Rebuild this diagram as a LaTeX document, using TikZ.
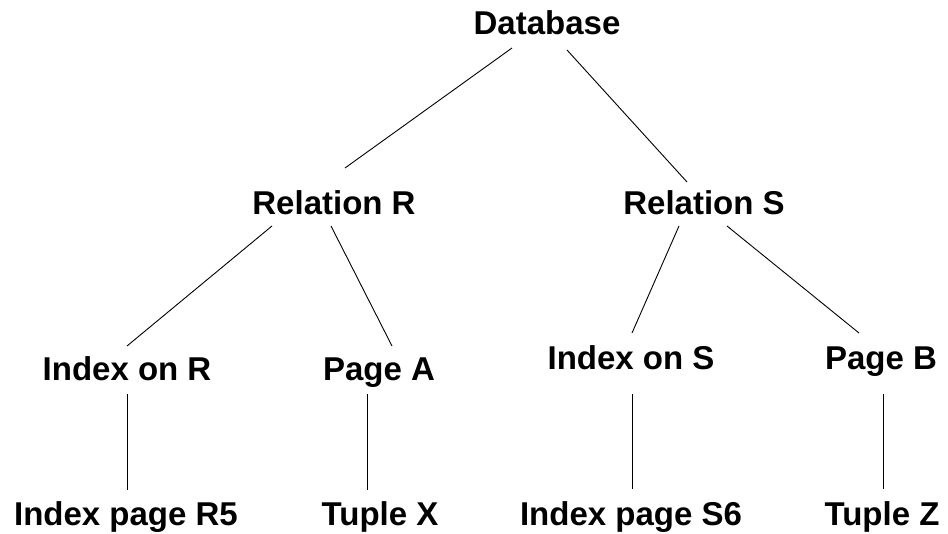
\documentclass[tikz,border=0pt]{standalone}
\usepackage{fontspec}
\setmainfont{Liberation Sans}
\usetikzlibrary{calc}

\tikzset{
  lbl/.style={anchor=base, inner sep=0pt, font=\fontsize{33}{40}\selectfont\bfseries},
  edge/.style={line width=0.9pt}
}

\begin{document}
\begin{tikzpicture}[x=1pt,y=-1pt]
        \useasboundingbox (0,0) rectangle (948,534);
          % 节点
          \node[lbl] (db) at (547,35) {Database};
          \node[lbl] (relR) at (334,215) {Relation R};
          \node[lbl] (relS) at (704,215) {Relation S};
          \node[lbl] (idxR) at (127,381) {Index on R};
          \node[lbl] (pgA) at (379,381) {Page A};
          \node[lbl] (idxS) at (631,370) {Index on S};
          \node[lbl] (pgB) at (881,370) {Page B};
          \node[lbl] (ipR) at (126,525) {Index page R5};
          \node[lbl] (tupX) at (380,525) {Tuple X};
          \node[lbl] (ipS) at (631,525) {Index page S6};
          \node[lbl] (tupZ) at (882,525) {Tuple Z};

          % 连线
          \draw[edge] ($(db.base)+(-35,13)$) -- ($(relR.base)+(11,-47)$);
          \draw[edge] ($(db.base)+(20,15)$) -- ($(relS.base)+(-17,-33)$);
          \draw[edge] ($(relR.base)+(-62,11)$) -- ($(idxR.base)+(0,-35)$);
          \draw[edge] ($(relR.base)+(-3,11)$) -- ($(pgA.base)+(13,-35)$);
          \draw[edge] ($(relS.base)+(-25,11)$) -- ($(idxS.base)+(1,-37)$);
          \draw[edge] ($(relS.base)+(23,11)$) -- ($(pgB.base)+(-22,-37)$);
          \draw[edge] ($(idxR.base)+(0,13)$) -- ($(ipR.base)+(1,-35)$);
          \draw[edge] ($(pgA.base)+(-12,13)$) -- ($(tupX.base)+(-13,-35)$);
          \draw[edge] ($(idxS.base)+(1,24)$) -- ($(ipS.base)+(1,-36)$);
          \draw[edge] ($(pgB.base)+(2,24)$) -- ($(tupZ.base)+(1,-36)$);
\end{tikzpicture}
\end{document}
